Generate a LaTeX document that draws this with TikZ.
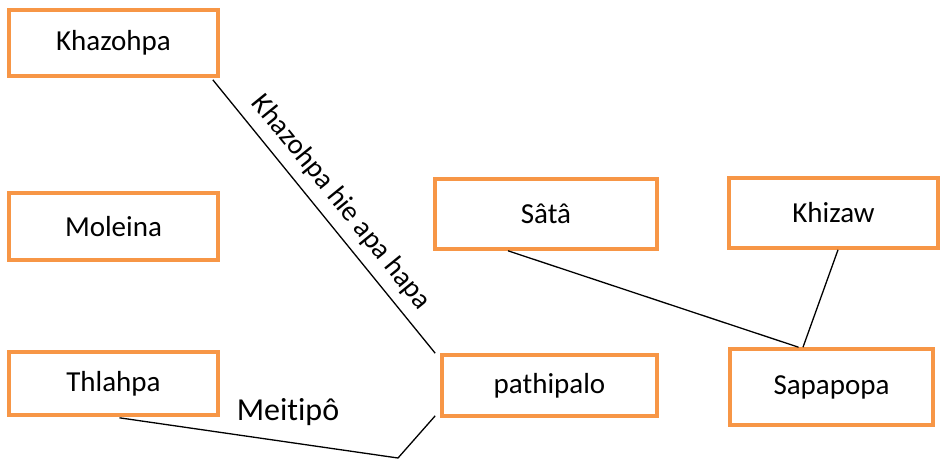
\documentclass[tikz,border=0pt]{standalone}
\usepackage{fontspec}
\setmainfont{Carlito}[RawFeature=-liga]
\usetikzlibrary{calc}
\definecolor{boxorange}{HTML}{F79646}
\begin{document}
\begin{tikzpicture}[x=1pt,y=-1pt,
  box/.style={draw=boxorange, line width=3.6pt, fill=white, inner sep=0pt,
    font=\fontsize{29}{33}\selectfont, text=black},
  conn/.style={draw=black, line width=1.3pt},
  lbl/.style={font=\fontsize{28.5}{32}\selectfont, text=black}]
\useasboundingbox (0,0) rectangle (941,459);
\node[box, minimum width=209pt, minimum height=66pt] (kh) at (113.5,43) {Khazohpa};
\node[box, minimum width=209pt, minimum height=67pt] (mo) at (113.5,226.5) {Moleina};
\node[box, minimum width=209pt, minimum height=63pt] (th) at (113.5,383.5) {Thlahpa};
\node[box, minimum width=215pt, minimum height=61pt] (pa) at (549.5,385.5) {pathipalo};
\node[box, minimum width=222pt, minimum height=70pt] (sa) at (546,214) {Sâtâ};
\node[box, minimum width=209pt, minimum height=70pt] (kz) at (833.5,213) {Khizaw};
\node[box, minimum width=203pt, minimum height=76pt] (sp) at (831.5,387) {Sapapopa};
\coordinate (bend) at (398,458);
\draw[conn] ($(kh.south east)+(-7,2)$) -- ($(pa.north west)+(-5,0)$)
  node[midway, sloped, above, lbl, yshift=6pt] {Khazohpa hie apa hapa};
\draw[conn] ($(th.south)+(6,1)$) -- (bend) -- ($(pa.south west)+(-5,-2)$);
\node[font=\fontsize{32}{36}\selectfont] (mt) at (288,412) {Meitipô};
\draw[conn] ($(sa.south)+(-38,0)$) -- ($(sp.north)+(-33,0)$);
\draw[conn] ($(kz.south)+(4.5,0)$) -- ($(sp.north)+(-28.5,0)$);
\end{tikzpicture}
\end{document}
